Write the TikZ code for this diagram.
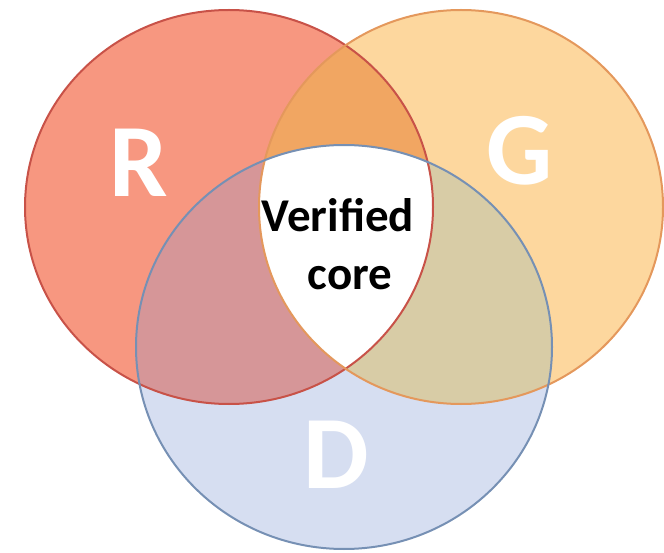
\documentclass[tikz,border=0pt]{standalone}
\usepackage{fontspec}
\setmainfont{Carlito}
\definecolor{rfill}{RGB}{247,151,128}
\definecolor{gfill}{RGB}{253,215,158}
\definecolor{dfill}{RGB}{214,222,241}
\definecolor{rgfill}{RGB}{241,166,98}
\definecolor{rdfill}{RGB}{214,150,152}
\definecolor{gdfill}{RGB}{216,204,166}
\definecolor{redge}{RGB}{200,82,72}
\definecolor{gedge}{RGB}{228,152,92}
\definecolor{dedge}{RGB}{118,144,180}
\begin{document}
\begin{tikzpicture}[x=1pt,y=-1pt]
\tikzstyle{every node}+=[inner sep=0pt]
\tikzstyle{setname}=[text=white, anchor=base, font=\bfseries\fontsize{104}{104}\selectfont]
\tikzstyle{coretext}=[text=black, anchor=base, font=\bfseries\fontsize{47}{47}\selectfont]
\useasboundingbox (0,0) rectangle (664,553);
\coordinate (cR) at (229,207);
\coordinate (cG) at (461,207);
\coordinate (cD) at (344,347);
\fill [rfill] (cR) ellipse (204pt and 197pt);
\fill [gfill] (cG) ellipse (202pt and 197pt);
\fill [dfill] (cD) ellipse (208pt and 202pt);
\begin{scope}
\clip (cG) ellipse (202pt and 197pt);
\fill [gdfill] (cD) ellipse (208pt and 202pt);
\end{scope}
\begin{scope}
\clip (cR) ellipse (204pt and 197pt);
\fill [rgfill] (cG) ellipse (202pt and 197pt);
\fill [rdfill] (cD) ellipse (208pt and 202pt);
\clip (cG) ellipse (202pt and 197pt);
\fill [white] (cD) ellipse (208pt and 202pt);
\end{scope}
\draw [redge, line width=2pt] (cR) ellipse (204pt and 197pt);
\draw [gedge, line width=2pt] (cG) ellipse (202pt and 197pt);
\draw [dedge, line width=2pt] (cD) ellipse (208pt and 202pt);
\node [setname] (R) at (139,197) {R};
\node [setname] (G) at (520,185) {G};
\node [setname] (D) at (336,488) {D};
\node [coretext] (verified) at (338,232) {Verified};
\node [coretext] (core) at (350,290) {core};
\end{tikzpicture}
\end{document}
